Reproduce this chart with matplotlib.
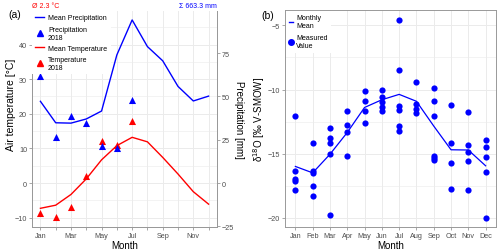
import matplotlib
matplotlib.use("Agg")
import matplotlib.pyplot as plt
from matplotlib.lines import Line2D

plt.rcParams['font.family'] = ['Liberation Sans', 'DejaVu Sans']

# Panel (a) data
months = [1, 2, 3, 4, 5, 6, 7, 8, 9, 10, 11, 12]
month_labels_a = ['Jan', '', 'Mar', '', 'May', '', 'Jul', '', 'Sep', '', 'Nov', '']
mean_precip = [47.2, 34.8, 34.6, 37.0, 41.6, 74.0, 94.2, 78.8, 70.6, 55.8, 47.4, 50.2]
precip_2018 = [62.0, 26.4, 38.7, 34.6, 21.4, 20.0, 48.2]
mean_temp = [-7.3, -6.4, -3.3, 1.2, 6.7, 10.8, 13.2, 11.9, 7.4, 2.6, -2.5, -6.1]
temp_2018 = [-8.7, -9.7, -6.9, 2.1, 12.0, 11.0, 17.8]
months_2018 = [1, 2, 3, 4, 5, 6, 7]

# Panel (b) data
month_labels_b = ['Jan', 'Feb', 'Mar', 'Apr', 'May', 'Jun', 'Jul', 'Aug', 'Sep', 'Oct', 'Nov', 'Dec']
mean_d18o = [-16.0, -16.5, -15.05, -13.35, -11.4, -10.8, -10.38, -10.92, -12.85, -14.7, -14.72, -15.95]
iso_month = [1, 1, 1, 1, 1,
             2, 2, 2, 2, 2,
             3, 3, 3, 3, 3,
             4, 4, 4, 4,
             5, 5, 5, 5,
             6, 6, 6, 6, 6,
             7, 7, 7, 7, 7, 7,
             8, 8, 8, 8,
             9, 9, 9, 9, 9, 9,
             10, 10, 10, 10,
             11, 11, 11, 11, 11,
             12, 12, 12, 12, 12]
iso_value = [-12.1, -16.35, -16.95, -17.1, -17.85,
             -14.15, -16.35, -16.55, -17.55, -18.3,
             -13.0, -13.8, -14.15, -15.05, -19.75,
             -11.7, -12.8, -13.35, -15.15,
             -10.1, -10.9, -11.65, -12.6,
             -10.0, -10.6, -10.95, -11.4, -11.65,
             -4.6, -8.5, -11.3, -11.6, -12.85, -13.25,
             -9.4, -11.1, -11.5, -11.85,
             -9.85, -10.9, -12.1, -15.2, -15.35, -15.5,
             -11.2, -14.2, -15.75, -17.75,
             -11.75, -14.35, -14.85, -15.55, -17.85,
             -13.9, -14.45, -15.25, -16.45, -20.0]

BLUE = '#0000FF'
RED = '#FF0000'
GRID = '#EBEBEB'
SPINE = '#999999'
TICKC = '#4D4D4D'


def style_ax(ax):
    ax.set_axisbelow(True)
    ax.grid(which='major', color=GRID, lw=0.7)
    ax.grid(which='minor', color=GRID, lw=0.4)
    ax.tick_params(which='both', length=2, width=0.6, color=SPINE,
                   labelsize=5.2, labelcolor=TICKC, pad=1.5)
    ax.tick_params(which='minor', length=0)
    for s in ax.spines.values():
        s.set_color(SPINE)
        s.set_linewidth(0.7)


fig = plt.figure(figsize=(5, 2.53), dpi=100)

# ---------- panel (a) ----------
ax1 = fig.add_axes([0.064, 0.0988, 0.37, 0.854])
ax2 = ax1.twinx()
style_ax(ax1)
ax1.spines['top'].set_visible(False)
ax1.set_xlim(0.45, 12.55)
ax1.set_ylim(-12.7, 49.7)
ax2.set_ylim(-25.4, 99.4)
ax1.set_xticks(months, month_labels_a)
ax1.set_yticks([-10, 0, 10, 20, 30, 40])
ax1.set_yticks([-5, 5, 15, 25, 35, 45], minor=True)
ax1.set_xticks([], minor=True)
ax1.set_yticklabels(['\u221210', '0', '10', '20', '30', '40'])
ax2.set_yticks([-25, 0, 25, 50, 75])
ax2.set_yticklabels(['\u221225', '0', '25', '50', '75'])
ax2.tick_params(length=2, width=0.6, color=SPINE, labelsize=5.2,
                labelcolor=TICKC, pad=1.5)
for s in ax2.spines.values():
    s.set_color(SPINE)
    s.set_linewidth(0.7)
ax2.spines['top'].set_visible(False)

ax1.plot(months, mean_temp, color=RED, lw=1.0)
ax1.scatter(months_2018, temp_2018, marker='^', s=26, color=RED, zorder=3, lw=0)
ax2.plot(months, mean_precip, color=BLUE, lw=1.0)
ax2.scatter(months_2018, precip_2018, marker='^', s=26, color=BLUE, zorder=3, lw=0)

ax1.set_xlabel('Month', fontsize=7, labelpad=1)
ax1.set_ylabel('Air temperature [°C]', fontsize=7.5, va='center')
ax1.yaxis.set_label_coords(-0.113, 0.57)
ax2.set_ylabel('Precipitation [mm]', fontsize=7, rotation=270, va='center')
ax2.yaxis.set_label_coords(1.119, 0.5)

ax1.annotate('Ø 2.3 °C', xy=(0, 1), xycoords='axes fraction', xytext=(0, 1.5),
             textcoords='offset points', ha='left', va='bottom', fontsize=5, color=RED)
ax1.annotate('Σ 663.3 mm', xy=(1, 1), xycoords='axes fraction', xytext=(0, 1.5),
             textcoords='offset points', ha='right', va='bottom', fontsize=5, color=BLUE)

handles_a = [Line2D([], [], color=BLUE, lw=1.0),
             Line2D([], [], color=BLUE, marker='^', ls='none', markersize=5),
             Line2D([], [], color=RED, lw=1.0),
             Line2D([], [], color=RED, marker='^', ls='none', markersize=5)]
labels_a = ['Mean Precipitation', 'Precipitation\n2018', 'Mean Temperature', 'Temperature\n2018']
leg = ax2.legend(handles_a, labels_a, loc='upper left', bbox_to_anchor=(0, 1),
                 fontsize=5, frameon=True, framealpha=1, edgecolor='none',
                 fancybox=False, borderaxespad=0, handlelength=1.2,
                 labelspacing=0.6, borderpad=0.5, handletextpad=0.6)
leg.get_frame().set_linewidth(0)

# ---------- panel (b) ----------
ax3 = fig.add_axes([0.57, 0.1, 0.422, 0.8565])
style_ax(ax3)
ax3.set_xlim(0.4, 12.6)
ax3.set_ylim(-20.7, -3.8)
ax3.set_xticks(months, month_labels_b)
ax3.set_yticks([-20, -15, -10, -5])
ax3.set_yticks([-17.5, -12.5, -7.5], minor=True)
ax3.set_yticklabels(['\u221220', '\u221215', '\u221210', '\u22125'])
ax3.plot(months, mean_d18o, color=BLUE, lw=0.9, zorder=2)
ax3.scatter(iso_month, iso_value, s=20, color=BLUE, lw=0, zorder=3)
ax3.set_xlabel('Month', fontsize=7, labelpad=1)
ax3.set_ylabel('δ$^{18}$O [‰ V-SMOW]', fontsize=7, va='center')
ax3.yaxis.set_label_coords(-0.125, 0.5)

handles_b = [Line2D([], [], color=BLUE, lw=1.0),
             Line2D([], [], color=BLUE, marker='o', ls='none', markersize=4)]
leg_b = ax3.legend(handles_b, ['Monthly\nMean', 'Measured\nValue'], loc='upper left',
                   bbox_to_anchor=(0, 1), fontsize=5, frameon=True, framealpha=1,
                   edgecolor='none', fancybox=False, borderaxespad=0.1,
                   handlelength=0.5, labelspacing=0.7, borderpad=0.5, handletextpad=0.5)
leg_b.get_frame().set_linewidth(0)

fig.text(15 / 500, 1 - 15 / 253, '(a)', ha='center', va='center', fontsize=7.5)
fig.text(268 / 500, 1 - 16 / 253, '(b)', ha='center', va='center', fontsize=7.5)

fig.savefig('out.png', dpi=100)
